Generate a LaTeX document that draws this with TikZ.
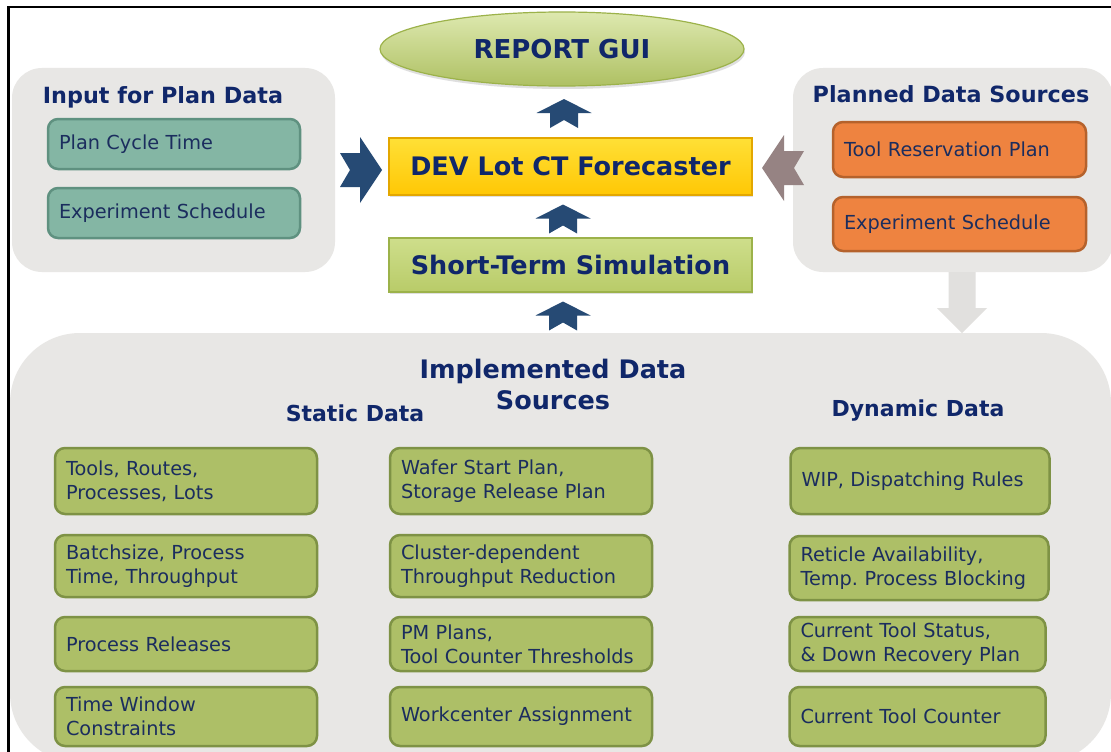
\documentclass[tikz,border=0pt]{standalone}
\usepackage{fontspec}
\setmainfont{DejaVu Sans}
\usetikzlibrary{shapes.geometric,shadows}
\definecolor{Marino}{HTML}{10276A}
\definecolor{Texto}{HTML}{1B2D5E}
\definecolor{GrisPanel}{HTML}{E8E7E5}
\definecolor{GrisFlecha}{HTML}{E1E0DE}
\definecolor{Flecha}{HTML}{264A74}
\definecolor{Topo}{HTML}{968383}
\definecolor{Turquesa}{HTML}{84B6A4}
\definecolor{TurquesaBorde}{HTML}{5F9180}
\definecolor{Naranja}{HTML}{EE8340}
\definecolor{NaranjaBorde}{HTML}{B5622C}
\definecolor{Oliva}{HTML}{ADBF67}
\definecolor{OlivaBorde}{HTML}{7E9245}
\definecolor{Lima}{HTML}{C2D66E}
\definecolor{LimaBorde}{HTML}{9CB24A}
\definecolor{Dorado}{HTML}{FFCB05}
\definecolor{DoradoBorde}{HTML}{E3A700}
\frenchspacing

\begin{document}
\begin{tikzpicture}[x=1pt,y=-1pt,
  every node/.style={font=\fontsize{19.3}{24}\selectfont,text=Texto},
  titulo/.style={font=\bfseries\fontsize{22.3}{26}\selectfont,text=Marino},
  panel/.style={rectangle,fill=GrisPanel,rounded corners=30pt,inner sep=0pt},
  caja/.style={rectangle,rounded corners=10pt,line width=2.5pt,align=left,inner xsep=11pt,inner ysep=0pt},
  plan/.style={caja,draw=TurquesaBorde,fill=Turquesa,text width=230pt,minimum height=50pt},
  previsto/.style={caja,draw=NaranjaBorde,fill=Naranja,text width=231pt},
  dato/.style={caja,draw=OlivaBorde,fill=Oliva,text width=240pt},
  centro/.style={rectangle,minimum width=363pt,line width=1.2pt,
    font=\bfseries\fontsize{25.5}{30}\selectfont,text=Marino,
    drop shadow={opacity=0.25,shadow xshift=1pt,shadow yshift=-2pt}},
  flechaarriba/.pic={\fill (0,-14.5) -- (27.5,-0.5) -- (14,-0.5) -- (14,14.5) -- (0,6.5)
    -- (-14,14.5) -- (-14,-0.5) -- (-27.5,-0.5) -- cycle;},
  flechalado/.pic={\fill (21,0) -- (-1,-33) -- (-1,-17) -- (-21,-17) -- (-11,0)
    -- (-21,17) -- (-1,17) -- (-1,33) -- cycle;}]
\useasboundingbox (0,0) rectangle (1111,752);
\fill[white] (0,0) rectangle (1111,752);
\draw[line width=2.5pt,black] (8.5,7) rectangle (1130,780);

% panels
\node[panel,minimum width=323pt,minimum height=204pt] (pentrada) at (173.5,170) {};
\node[panel,minimum width=320pt,minimum height=204pt] (pplan) at (953,170) {};
\node[panel,rounded corners=70pt,minimum width=1101pt,minimum height=430pt] (pimpl) at (560.5,548) {};
\fill[GrisFlecha] ([xshift=-4.5pt]pplan.south) -- ++(0,36) -- ++(-11.5,0) -- ++(25,25)
  -- ++(25,-25) -- ++(-11.5,0) -- ++(0,-36) -- cycle;

% centre column
\node[ellipse,draw=LimaBorde,line width=1.2pt,top color=Lima!55!white,bottom color=Lima!90!black,
  minimum width=364pt,minimum height=74pt,font=\bfseries\fontsize{26}{30}\selectfont,text=Marino,
  drop shadow={opacity=0.25,shadow xshift=1pt,shadow yshift=-3pt}] (gui) at (562,49) {REPORT GUI};
\node[centro,draw=DoradoBorde,top color=Dorado!75!yellow!80!white,bottom color=Dorado!95!orange,minimum height=57pt] (fore) at (570.5,166.5) {DEV Lot CT Forecaster};
\node[centro,draw=LimaBorde,top color=Lima!80!white,bottom color=Lima!95!black,minimum height=54pt] (sim) at (570.5,265) {Short-Term Simulation};
\pic[Flecha] at (564,113.5) {flechaarriba};
\pic[Flecha] at (563,219) {flechaarriba};
\pic[Flecha] at (563,316) {flechaarriba};
\pic[Flecha] at (361,170) {flechalado};
\pic[Topo,xscale=-1] at (783,168) {flechalado};

% input for plan data
\node[titulo] (tentrada) at (163,97) {Input for Plan Data};
\node[plan] (ciclo) at (174,144) {Plan Cycle Time};
\node[plan] (expplan) at (174,213) {Experiment Schedule};

% planned data sources
\node[titulo] (tplan) at (951,94) {Planned Data Sources};
\node[previsto,minimum height=55pt] (reserva) at (959.5,149.5) {Tool Reservation Plan};
\node[previsto,minimum height=54pt] (expprev) at (959.5,224) {Experiment Schedule};

% implemented data sources
\node[titulo,font=\bfseries\fontsize{25.5}{31}\selectfont,align=center] (timpl) at (553,384) {Implemented Data\\Sources};
\node[titulo,font=\bfseries\fontsize{22}{26}\selectfont] (testat) at (355,413) {Static Data};
\node[titulo,font=\bfseries\fontsize{22}{26}\selectfont] (tdin) at (918,411) {Dynamic Data};

\node[dato,minimum height=66pt] (tools) at (186,481) {Tools, Routes,\\Processes, Lots};
\node[dato,minimum height=62pt] (batch) at (186,566) {Batchsize, Process\\Time, Throughput};
\node[dato,minimum height=54pt] (releases) at (186,644) {Process Releases};
\node[dato,minimum height=59pt] (window) at (186,716.5) {Time Window\\Constraints};

\node[dato,minimum height=66pt] (wafer) at (521,481) {Wafer Start Plan,\\Storage Release Plan};
\node[dato,minimum height=62pt] (cluster) at (521,566) {Cluster-dependent\\Throughput Reduction};
\node[dato,minimum height=54pt] (pm) at (521,644) {PM Plans,\\Tool Counter Thresholds};
\node[dato,minimum height=59pt] (workc) at (521,716.5) {Workcenter Assignment};

\node[dato,text width=237pt,minimum height=66pt] (wip) at (920,481) {WIP, Dispatching Rules};
\node[dato,text width=237pt,minimum height=64pt] (reticle) at (919,568) {Reticle Availability,\\Temp. Process Blocking};
\node[dato,text width=234pt,minimum height=54pt] (status) at (917.5,644) {Current Tool Status,\\\& Down Recovery Plan};
\node[dato,text width=234pt,minimum height=59pt] (counter) at (917.5,716.5) {Current Tool Counter};
\end{tikzpicture}
\end{document}
